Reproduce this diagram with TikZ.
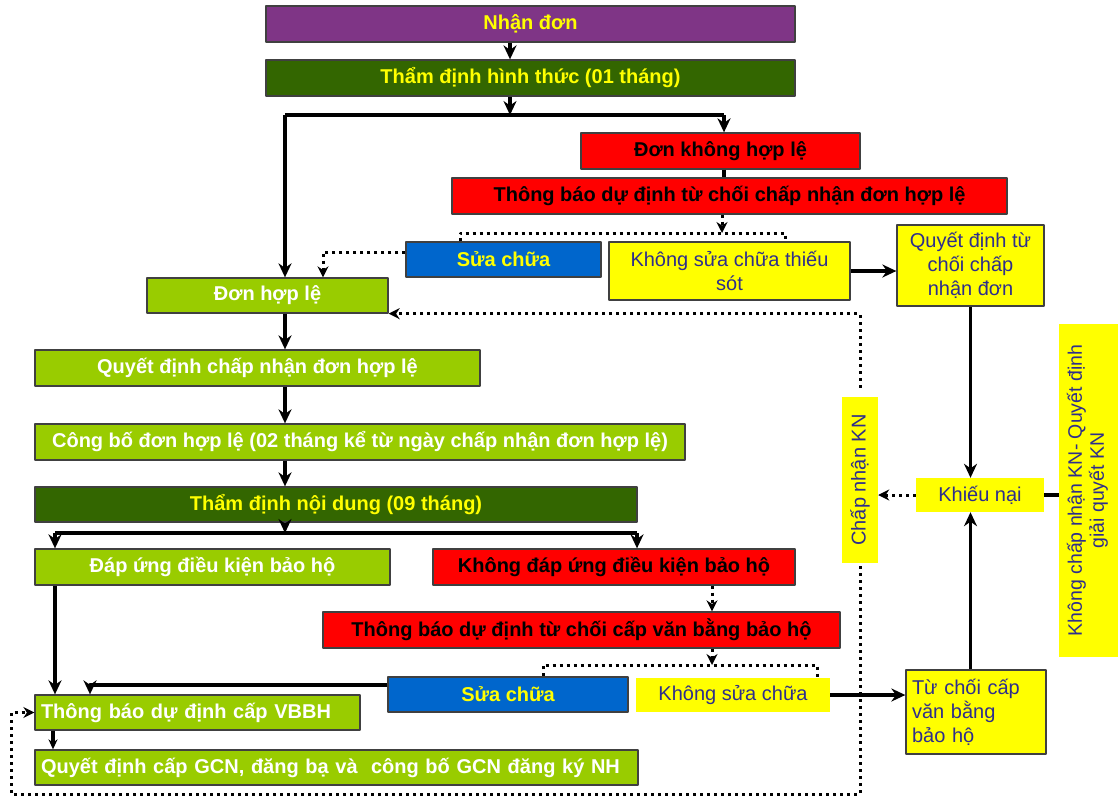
\documentclass[tikz,border=0pt]{standalone}
\usepackage{fontspec}
\setmainfont{Liberation Sans}
\usetikzlibrary{arrows.meta}
\definecolor{cTim}{HTML}{7F3586}
\definecolor{cXanhDam}{HTML}{336600}
\definecolor{cXanhLa}{HTML}{99CC00}
\definecolor{cDo}{HTML}{FF0000}
\definecolor{cXanhDuong}{HTML}{0066CC}
\definecolor{cVang}{HTML}{FFFF00}
\definecolor{cChu}{HTML}{2E2E8C}
\begin{document}
\begin{tikzpicture}[x=1pt,y=-1pt,line join=round,
    box/.style={draw=black!75,line width=1.3pt,inner sep=2pt,align=center,
        font=\bfseries\fontsize{20}{23}\selectfont},
    tim/.style={box,fill=cTim,text=cVang},
    xdam/.style={box,fill=cXanhDam,text=cVang},
    xla/.style={box,fill=cXanhLa,text=white},
    dobox/.style={box,fill=cDo,text=black},
    xduong/.style={box,fill=cXanhDuong,text=cVang},
    vang/.style={fill=cVang,text=cChu,inner sep=3pt,align=center,
        font=\fontsize{20}{24}\selectfont},
    vangk/.style={vang,draw=black!75,line width=1.3pt},
    ln/.style={line width=3.2pt},
    arr/.style={ln,-{Stealth[length=14pt,width=13pt]}},
    dotln/.style={line width=3pt,dash pattern=on 3pt off 4pt},
    dotarr/.style={dotln,-{Stealth[length=11pt,width=11pt]}}]
    \useasboundingbox (0,0) rectangle (1118,796);
    % tiep nhan, tham dinh hinh thuc
    \node[tim,minimum width=529,minimum height=36] (nhan) at (530.5,24) {Nhận đơn};
    \node[xdam,minimum width=529,minimum height=36] (hinhthuc) at (530.5,78) {Thẩm định hình thức (01 tháng)};
    \node[dobox,minimum width=279,minimum height=36] (khonghople) at (720.5,151) {Đơn không hợp lệ};
    \node[dobox,minimum width=555,minimum height=36] (tbtuchoi) at (729.5,196) {Thông báo dự định từ chối chấp nhận đơn hợp lệ};
    \node[xduong,minimum width=195,minimum height=35] (suachua1) at (503.5,259.5) {Sửa chữa};
    \node[vangk,minimum width=241,minimum height=58] (khongsua1) at (729.5,271) {Không sửa chữa thiếu\\sót};
    \node[vangk,minimum width=147,minimum height=81] (qdtuchoi) at (970.5,265.5) {Quyết định từ\\chối chấp\\nhận đơn};
    % nhanh don hop le
    \node[xla,minimum width=241,minimum height=35] (donhople) at (267.5,295.5) {Đơn hợp lệ};
    \node[xla,minimum width=445,minimum height=36] (qdchapnhan) at (257.5,368) {Quyết định chấp nhận đơn hợp lệ};
    \node[xla,minimum width=650,minimum height=36] (congbo) at (360,442) {Công bố đơn hợp lệ (02 tháng kể từ ngày chấp nhận đơn hợp lệ)};
    \node[xdam,minimum width=602,minimum height=35] (noidung) at (336,504.5) {Thẩm định nội dung (09 tháng)};
    \node[xla,minimum width=355,minimum height=36] (dapung) at (212.5,567) {Đáp ứng điều kiện bảo hộ};
    \node[dobox,minimum width=362,minimum height=36] (khongdapung) at (614,567) {Không đáp ứng điều kiện bảo hộ};
    \node[dobox,minimum width=517,minimum height=36] (tbtuchoivb) at (581.5,630) {Thông báo dự định từ chối cấp văn bằng bảo hộ};
    \node[xduong,minimum width=240,minimum height=35] (suachua2) at (508,694.5) {Sửa chữa};
    \node[vang,minimum width=194,minimum height=34] (khongsua2) at (733,695) {Không sửa chữa};
    \node[xla,minimum width=325,minimum height=35,text width=313,align=left] (tbvbbh) at (197.5,712.5) {Thông báo dự định cấp VBBH};
    \node[xla,minimum width=603,minimum height=35,text width=591,align=left] (qdgcn) at (336.5,767.5) {Quyết định cấp GCN, đăng bạ và\ \ công bố GCN đăng ký NH};
    % khieu nai
    \node[vangk,minimum width=140,minimum height=84,text width=128,align=left] (tuchoivb) at (976,712) {Từ chối cấp\\văn bằng\\bảo hộ};
    \node[vang,minimum width=128,minimum height=34] (khieunai) at (980,495) {Khiếu nại};
    \node[vang,minimum width=36,minimum height=166,inner sep=1pt] (chapnhankn) at (860,480) {\rotatebox{90}{Chấp nhận KN}};
    \node[vang,minimum width=59,minimum height=333,inner sep=1pt,font=\fontsize{19.5}{22}\selectfont] (khongchapnhan) at (1088.5,490.5)
        {\rotatebox{90}{\begin{tabular}{@{}c@{}}Không chấp nhận KN- Quyết định\\giải quyết KN\end{tabular}}};
    % diem re nhanh
    \coordinate (split1) at (510,115);
    \coordinate (split1L) at (285,115);
    \coordinate (split1R) at (724,115);
    \coordinate (dotsplit1) at (722,233);
    \coordinate (dot1L) at (460,233);
    \coordinate (dot1R) at (785,233);
    \coordinate (sua1In) at (323,252);
    \coordinate (split2) at (285,533);
    \coordinate (split2L) at (55,533);
    \coordinate (split2R) at (637,533);
    \coordinate (dotsplit2) at (712,665);
    \coordinate (dot2L) at (543,665);
    \coordinate (dot2R) at (817,665);
    \coordinate (vbbhIn) at (90,685);
    \coordinate (gcnIn) at (53,740);
    \coordinate (loopBR) at (860,794);
    \coordinate (loopBL) at (11,794);
    % mui ten lien
    \draw[arr] (nhan.south -| split1) -- (hinhthuc.north -| split1);
    \draw[arr] (hinhthuc.south -| split1) -- (split1);
    \draw[ln] (split1L) -- (split1R);
    \draw[arr] (split1L) -- (donhople.north -| split1L);
    \draw[arr] (split1R) -- (khonghople.north -| split1R);
    \draw[ln] (khonghople.south -| split1R) -- (tbtuchoi.north -| split1R);
    \draw[arr] (khongsua1.east) -- (khongsua1.east -| qdtuchoi.west);
    \draw[arr] (qdtuchoi.south) -- (qdtuchoi.south |- khieunai.north);
    \draw[arr] (tuchoivb.north -| qdtuchoi.south) -- (khieunai.south -| qdtuchoi.south);
    \draw[ln] (khieunai.east) -- (khieunai.east -| khongchapnhan.west);
    \draw[arr] (donhople.south -| split1L) -- (qdchapnhan.north -| split1L);
    \draw[arr] (qdchapnhan.south -| split1L) -- (congbo.north -| split1L);
    \draw[arr] (congbo.south -| split1L) -- (noidung.north -| split1L);
    \draw[arr] (noidung.south -| split2) -- (split2);
    \draw[ln] (split2L) -- (split2R);
    \draw[arr] (split2L) -- (dapung.north -| split2L);
    \draw[arr] (split2R) -- (khongdapung.north -| split2R);
    \draw[arr] (dapung.south -| split2L) -- (tbvbbh.north -| split2L);
    \draw[ln,-{Stealth[length=10pt,width=9pt]}] (tbvbbh.south -| gcnIn) -- (qdgcn.north -| gcnIn);
    \draw[arr] ([yshift=9.5pt]suachua2.west) -- (vbbhIn) -- (tbvbbh.north -| vbbhIn);
    \draw[arr] (khongsua2.east) -- (khongsua2.east -| tuchoivb.west);
    % mui ten cham
    \draw[dotarr] (tbtuchoi.south -| dotsplit1) -- (dotsplit1);
    \draw[dotln] (suachua1.north -| dot1L) -- (dot1L) -- (dot1R) -- (khongsua1.north -| dot1R);
    \draw[dotarr] ([yshift=7.5pt]suachua1.west) -- (sua1In) -- (donhople.north -| sua1In);
    \draw[dotarr] (khongdapung.south -| dotsplit2) -- (tbtuchoivb.north -| dotsplit2);
    \draw[dotarr] (tbtuchoivb.south -| dotsplit2) -- (dotsplit2);
    \draw[dotln] (suachua2.north -| dot2L) -- (dot2L) -- (dot2R) -- (khongsua2.north -| dot2R);
    \draw[dotarr] (khieunai.west) -- (khieunai.west -| chapnhankn.east);
    \draw[dotarr,shorten <=9pt] (chapnhankn.north) |- (donhople.south east);
    \draw[dotarr,shorten <=3pt] (chapnhankn.south) -- (loopBR) -- (loopBL) |- (tbvbbh.west);
\end{tikzpicture}
\end{document}
